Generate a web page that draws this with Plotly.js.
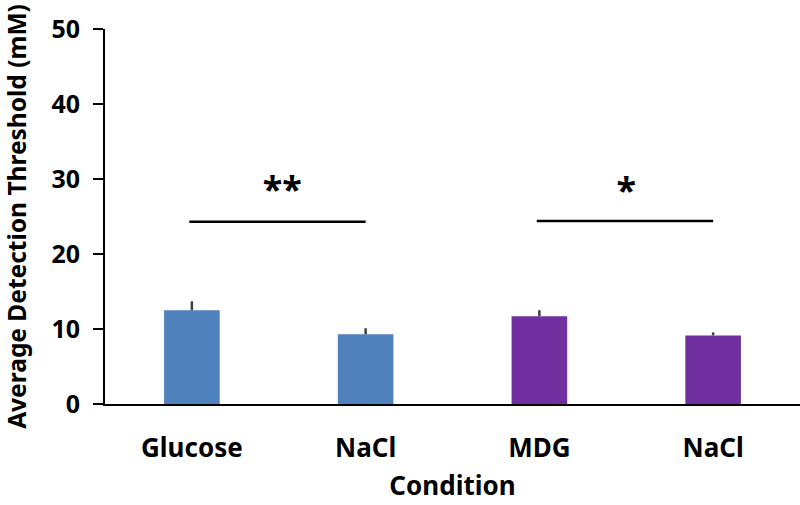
<!DOCTYPE html>
<html>
<head>
<meta charset="utf-8">
<script src="https://cdn.plot.ly/plotly-3.0.1.min.js"></script>
<style>html,body{margin:0;padding:0;background:#fff;}#chart{width:800px;height:505px;}</style>
</head>
<body>
<div id="chart"></div>
<script>
const categories = ["Glucose", "NaCl", "MDG", "NaCl"];
const positions = [0, 1, 2, 3];
const meanThreshold = [12.5, 9.3, 11.7, 9.15];
const sem = [1.2, 0.8, 0.8, 0.4];
const barColors = ["#4F81BD", "#4F81BD", "#7030A0", "#7030A0"];
const sig1X = [-0.015, 1.0];
const sig1Y = [24.3, 24.3];
const sig2X = [1.985, 3.0];
const sig2Y = [24.4, 24.4];
const starX = [0.52, 2.5];
const starY = [28.2, 28.0];
const starText = ["**", "*"];
const yTicks = [0, 10, 20, 30, 40, 50];

const FONT = "Noto Sans, Open Sans, sans-serif";

const traces = [
  {
    type: "bar",
    x: positions,
    y: meanThreshold,
    width: 0.32,
    marker: {color: barColors, line: {width: 0}},
    error_y: {type: "data", array: sem, arrayminus: sem.map(() => 0), symmetric: false,
              color: "#404040", thickness: 2.5, width: 0},
    hoverinfo: "skip"
  },
  {type: "scatter", mode: "lines", x: sig1X, y: sig1Y, line: {color: "#000", width: 2.5}, hoverinfo: "skip"},
  {type: "scatter", mode: "lines", x: sig2X, y: sig2Y, line: {color: "#000", width: 2.5}, hoverinfo: "skip"},
  {type: "scatter", mode: "text", x: starX, y: starY, text: starText,
   textfont: {family: FONT, size: 36, color: "#000", weight: "bold"}, textposition: "middle center", hoverinfo: "skip"}
];

const layout = {
  width: 800, height: 505,
  margin: {l: 105, r: 0, t: 29, b: 101},
  paper_bgcolor: "#fff", plot_bgcolor: "#fff",
  showlegend: false,
  font: {family: FONT, color: "#000"},
  xaxis: {
    range: [-0.5, 3.5],
    tickvals: positions, ticktext: categories,
    showgrid: false, zeroline: false,
    showline: true, linecolor: "#000", linewidth: 2,
    ticks: "", ticklabelstandoff: 20,
    tickfont: {family: FONT, size: 26, color: "#000", weight: "bold"},
    title: {text: "Condition", font: {family: FONT, size: 26, color: "#000", weight: "bold"}}
  },
  yaxis: {
    range: [0, 50],
    tickvals: yTicks,
    showgrid: false, zeroline: false,
    showline: true, linecolor: "#000", linewidth: 2,
    ticks: "outside", ticklen: 10, tickwidth: 2, tickcolor: "#000",
    ticklabelstandoff: 8,
    automargin: true,
    tickfont: {family: FONT, size: 25, color: "#000", weight: "bold"},
    title: {text: "Average Detection Threshold (mM)", font: {family: FONT, size: 24.5, color: "#000", weight: "bold"}, standoff: 22}
  }
};

Plotly.newPlot("chart", traces, layout, {displayModeBar: false, staticPlot: true});
</script>
</body>
</html>
